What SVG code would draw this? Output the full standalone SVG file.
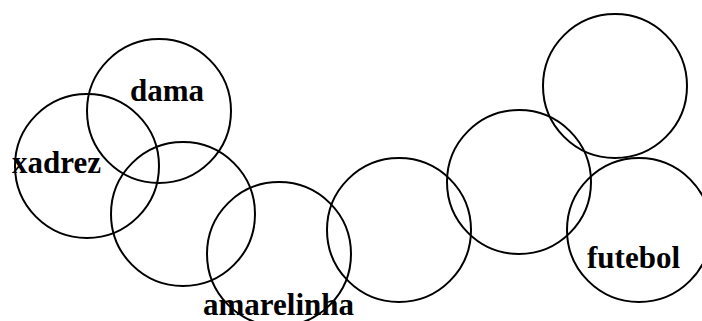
<svg xmlns="http://www.w3.org/2000/svg" width="702" height="321" viewBox="0 0 702 321">
<style>
.c{fill:none;stroke:#000;stroke-width:2}
.t{font-family:"Liberation Serif","Times New Roman",serif;font-weight:bold;font-size:31px;fill:#000}
</style>
<rect width="702" height="321" fill="#fff"/>
<g id="connectors"></g>
<g id="xadrez"><circle class="c" cx="87" cy="166" r="72"/><text class="t" x="12" y="173">xadrez</text></g>
<g id="dama"><circle class="c" cx="159" cy="111" r="72"/><text class="t" x="130" y="101">dama</text></g>
<g id="n3"><circle class="c" cx="183" cy="214" r="72"/></g>
<g id="amarelinha"><circle class="c" cx="279" cy="254" r="72"/><text class="t" x="203" y="315">amarelinha</text></g>
<g id="n5"><circle class="c" cx="399" cy="230" r="72"/></g>
<g id="n6"><circle class="c" cx="519" cy="182" r="72"/></g>
<g id="n7"><circle class="c" cx="615" cy="86" r="72"/></g>
<g id="futebol"><circle class="c" cx="639" cy="230" r="72"/><text class="t" x="587" y="268">futebol</text></g>
</svg>
